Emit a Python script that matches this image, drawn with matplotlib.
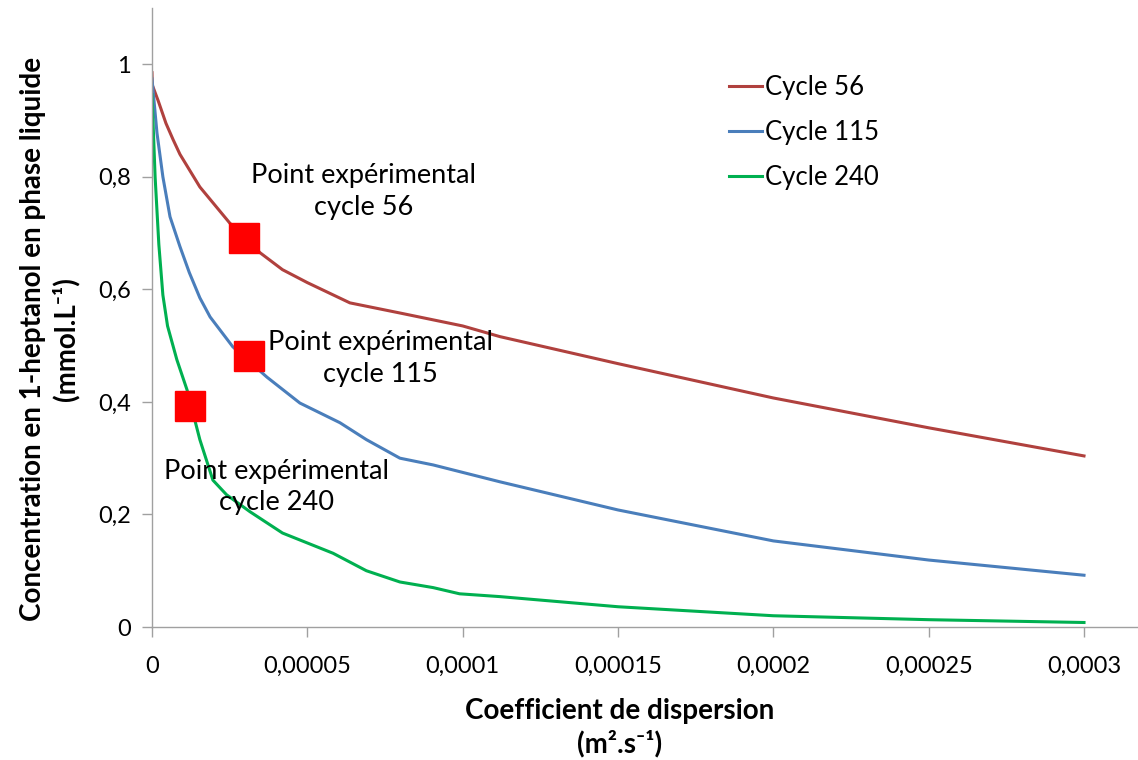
import matplotlib
matplotlib.use('Agg')
import matplotlib.pyplot as plt
from matplotlib.ticker import FuncFormatter

plt.rcParams['font.family'] = ['Lato', 'DejaVu Sans']

# Courbes simulées (coefficient de dispersion en m2/s, concentration en mmol/L)
x_56 = [0, 0.0000001, 0.000002, 0.0000045, 0.0000068, 0.000009, 0.0000154, 0.000025,
        0.0000348, 0.000042, 0.00005, 0.0000637, 0.0000798, 0.0001, 0.000112, 0.00015,
        0.0002, 0.00025, 0.0003]
y_56 = [0.985, 0.963, 0.935, 0.895, 0.866, 0.840, 0.782, 0.718,
        0.665, 0.635, 0.612, 0.576, 0.558, 0.535, 0.516, 0.468,
        0.407, 0.354, 0.304]

x_115 = [0, 0.0000016, 0.0000035, 0.0000058, 0.000009, 0.000012, 0.0000154, 0.0000187,
         0.000026, 0.000037, 0.0000476, 0.0000605, 0.000069, 0.0000798, 0.0000905,
         0.000112, 0.00015, 0.0002, 0.00025, 0.0003]
y_115 = [0.974, 0.878, 0.800, 0.729, 0.676, 0.630, 0.585, 0.551,
         0.498, 0.444, 0.398, 0.363, 0.333, 0.300, 0.288,
         0.258, 0.208, 0.153, 0.119, 0.092]

x_240 = [0, 0.000001, 0.0000022, 0.0000035, 0.000005, 0.0000065, 0.000008, 0.0000113,
         0.0000154, 0.0000196, 0.000024, 0.0000315, 0.000042, 0.0000583, 0.000069,
         0.0000798, 0.0000905, 0.000099, 0.000112, 0.00015, 0.0002, 0.00025, 0.0003]
y_240 = [0.946, 0.800, 0.680, 0.590, 0.535, 0.505, 0.475, 0.421,
         0.333, 0.261, 0.235, 0.205, 0.167, 0.131, 0.100,
         0.080, 0.070, 0.059, 0.054, 0.036, 0.020, 0.013, 0.008]

# Points expérimentaux
x_exp = [0.0000296, 0.0000312, 0.0000122]
y_exp = [0.692, 0.482, 0.393]
exp_labels = ['Point expérimental\ncycle 56', 'Point expérimental\ncycle 115',
              'Point expérimental\ncycle 240']
label_pos = [(0.0000680, 0.774), (0.0000735, 0.477), (0.0000400, 0.249)]

x_ticks = [0, 0.00005, 0.0001, 0.00015, 0.0002, 0.00025, 0.0003]
x_tick_labels = ['0', '0,00005', '0,0001', '0,00015', '0,0002', '0,00025', '0,0003']

fig = plt.figure(figsize=(11.38, 7.6), dpi=100)
ax = fig.add_axes([152 / 1138, 1 - 627 / 760, 1 - 152 / 1138, (627 - 8) / 760])

ax.plot(x_56, y_56, color='#b0413e', lw=2.2, label='Cycle 56')
ax.plot(x_115, y_115, color='#4a7ebb', lw=2.2, label='Cycle 115')
ax.plot(x_240, y_240, color='#00b050', lw=2.2, label='Cycle 240')
ax.plot(x_exp, y_exp, 's', color='#ff0000', markersize=21, zorder=5)

for (tx, ty), txt in zip(label_pos, exp_labels):
    ax.text(tx, ty, txt, ha='center', va='center', fontsize=19.5, linespacing=1.32)

ax.set_xlim(0, 0.0003 * (1138 - 152) / 932)
ax.set_ylim(0, 1.1)
ax.set_xticks(x_ticks)
ax.set_xticklabels(x_tick_labels)
ax.set_yticks([0, 0.2, 0.4, 0.6, 0.8, 1.0])
ax.yaxis.set_major_formatter(FuncFormatter(lambda v, p: ('%g' % v).replace('.', ',')))

for s in ['top', 'right']:
    ax.spines[s].set_visible(False)
for s in ['left', 'bottom']:
    ax.spines[s].set_color('#a0a0a0')
    ax.spines[s].set_linewidth(1.0)
ax.tick_params(direction='out', length=7, width=1, color='#a0a0a0', labelsize=17, pad=8)
ax.tick_params(axis='x', pad=14)

ax.set_xlabel('Coefficient de dispersion\n(m².s⁻¹)', fontsize=20, fontweight='bold',
              linespacing=1.25)
ax.set_ylabel('Concentration en 1-heptanol en phase liquide\n(mmol.L⁻¹)', fontsize=20,
              fontweight='bold', linespacing=1.25)
ax.xaxis.set_label_coords(0.474, -0.115, transform=ax.transAxes)
ax.yaxis.set_label_coords(-0.074, 0.465, transform=ax.transAxes)
ax.xaxis.label.set_va('top')
ax.yaxis.label.set_va('bottom')

ax.legend(loc='upper left', bbox_to_anchor=(716 / 1138, 1 - 62 / 760),
          bbox_transform=fig.transFigure, frameon=False, fontsize=18.5,
          handlelength=1.3, handletextpad=0.1, labelspacing=0.78, borderpad=0)

fig.savefig('out.png', dpi=100)
